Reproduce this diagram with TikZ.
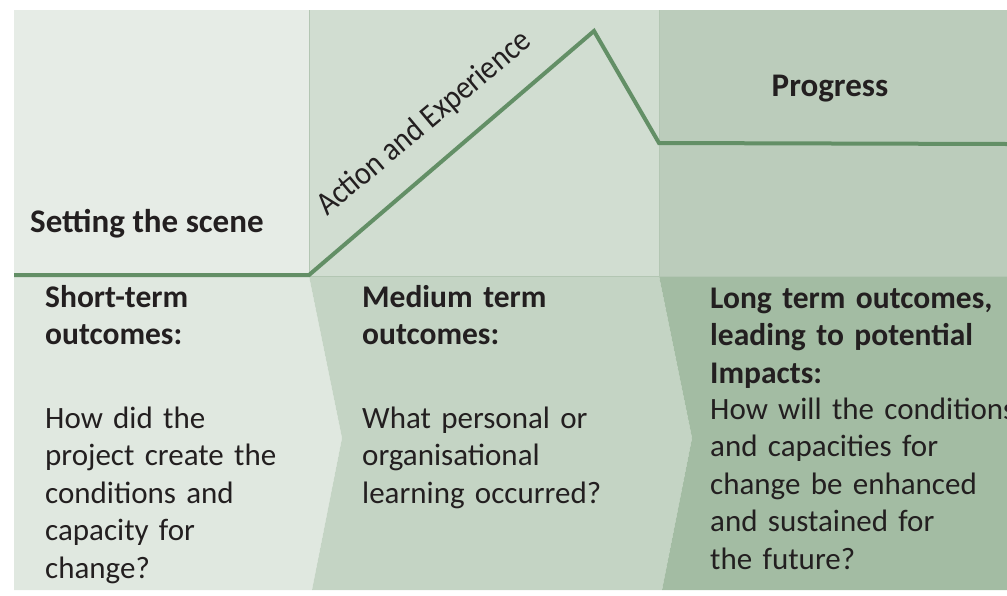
\documentclass[tikz,border=0pt]{standalone}
\usepackage{fontspec}
\setmainfont{Carlito}
\definecolor{topA}{HTML}{E6ECE6}
\definecolor{topB}{HTML}{D1DDD1}
\definecolor{topC}{HTML}{BBCCBB}
\definecolor{botA}{HTML}{E0E8E0}
\definecolor{botB}{HTML}{C4D4C4}
\definecolor{botC}{HTML}{A3BCA3}
\definecolor{zig}{HTML}{638F66}
\definecolor{edge}{HTML}{B3C6B3}
\definecolor{ink}{HTML}{231F20}
\tikzset{
  txt/.style={inner sep=0pt, text=ink, align=left, text width=330pt, anchor=base west,
    font=\fontsize{31}{37.5}\selectfont},
  head/.style={txt, font=\fontsize{31.5}{37.5}\selectfont\bfseries},
  title/.style={inner sep=0pt, text=ink, font=\fontsize{33}{38}\selectfont\bfseries},
  slanted/.style={inner sep=0pt, text=ink, font=\fontsize{33}{38}\selectfont, anchor=base west},
  zline/.style={draw=zig, line width=4pt, line join=miter},
  divider/.style={draw=edge, line width=0.8pt}
}
\begin{document}
\begin{tikzpicture}[x=1pt,y=-1pt]
\useasboundingbox (0,0) rectangle (1007,595);
% top band
\fill[topA] (14,10) rectangle (309,276);
\fill[topB] (309,10) rectangle (659,276);
\fill[topC] (659,10) rectangle (1007,276);
% bottom chevrons
\fill[botA] (14,276) -- (309,276) -- (342,438) -- (312,590) -- (14,590) -- cycle;
\fill[botB] (309,276) -- (659,276) -- (692,438) -- (662,590) -- (312,590) -- (342,438) -- cycle;
\fill[botC] (659,276) -- (1007,276) -- (1007,590) -- (662,590) -- (692,438) -- cycle;
% dividers
\draw[divider] (309,10) -- (309,276);
\draw[divider] (659,10) -- (659,276);
\draw[divider] (309,276) -- (1007,276);
% zigzag line
\coordinate (z0) at (14,275);
\coordinate (z1) at (309,275);
\coordinate (z2) at (594,31);
\coordinate (z3) at (659,143);
\coordinate (z4) at (1007,144);
\draw[zline] (z0) -- (z1) -- (z2) -- (z3) -- (z4);
% top labels
\node[title, anchor=base west] (scene) at (30,232) {Setting the scene};
\node[title, anchor=base] (progress) at (830,96) {Progress};
\node[slanted, rotate=40, xscale=0.9] (action) at (327,217) {Action and Experience};
% bottom texts
\node[head] (h1) at (45,307) {Short-term\\outcomes:};
\node[txt] (b1) at (45,428) {How did the\\project create the\\conditions and\\capacity for\\change?};
\node[head] (h2) at (362,307) {Medium term\\outcomes:};
\node[txt] (b2) at (362,428) {What personal or\\organisational\\learning occurred?};
\node[head] (h3) at (710,308) {Long term outcomes,\\leading to potential\\Impacts:};
\node[txt] (b3) at (710,419) {How will the conditions\\and capacities for\\change be enhanced\\and sustained for\\the future?};
\end{tikzpicture}
\end{document}
